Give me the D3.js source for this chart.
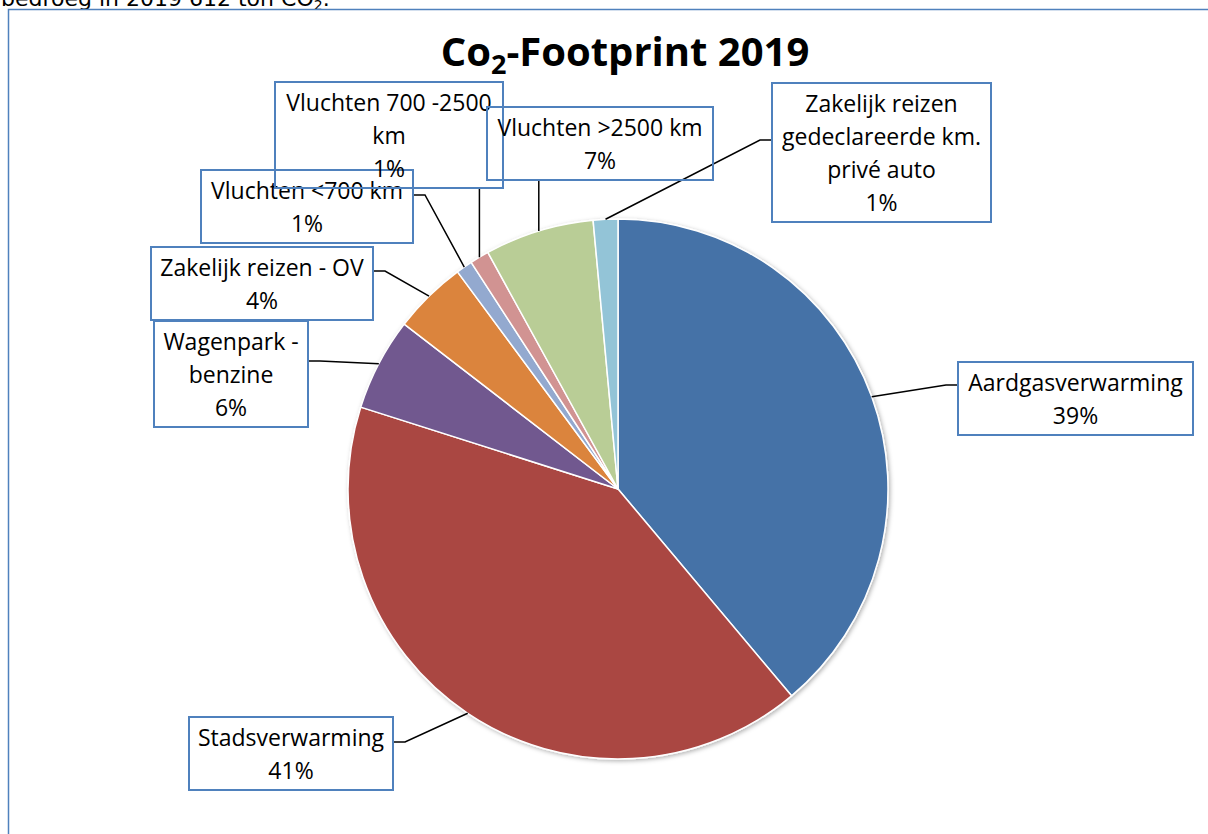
<!DOCTYPE html>
<html>
<head>
<meta charset="utf-8">
<script src="https://cdn.jsdelivr.net/npm/d3@7"></script>
<style>
  html, body { margin: 0; padding: 0; background: #ffffff; overflow: hidden; }
  svg { display: block; }
</style>
</head>
<body>
<svg id="chart" width="1208" height="834"></svg>
<script>
// ---- data (ton CO2, 2019, total 612) ----
const categories = [
  "Aardgasverwarming",
  "Stadsverwarming",
  "Wagenpark - benzine",
  "Zakelijk reizen - OV",
  "Vluchten <700 km",
  "Vluchten 700 -2500 km",
  "Vluchten >2500 km",
  "Zakelijk reizen gedeclareerde km. privé auto"
];
const values = [238, 251, 34, 27, 6, 7, 40, 9];
const labelLines = [
  ["Aardgasverwarming"],
  ["Stadsverwarming"],
  ["Wagenpark -", "benzine"],
  ["Zakelijk reizen - OV"],
  ["Vluchten <700 km"],
  ["Vluchten 700 -2500", "km"],
  ["Vluchten >2500 km"],
  ["Zakelijk reizen", "gedeclareerde km.", "privé auto"]
];
const colors = ["#4572A7", "#AA4643", "#71588F", "#DB843D", "#93A9CF", "#D19392", "#B9CD96", "#93C4D7"];

// ---- layout of label boxes (x, y, width, side of leader, knee y) ----
const boxLayout = [
  {x: 958, y: 362, w: 235, side: "left",   ky: 385},
  {x: 189, y: 717, w: 204, side: "right",  ky: 742},
  {x: 154, y: 321, w: 154, side: "right",  ky: 361},
  {x: 151, y: 247, w: 222, side: "right",  ky: 271},
  {x: 201, y: 170, w: 212, side: "right",  ky: 195},
  {x: 275, y: 82,  w: 228, side: "bottom", ky: 0},
  {x: 487, y: 107, w: 226, side: "bottom", ky: 0},
  {x: 772, y: 83,  w: 219, side: "left",   ky: 140}
];

const svg = d3.select("#chart");
const cx = 618, cy = 489, R = 270;
const lineH = 33;
const fontFam = "'Open Sans', 'Noto Sans', sans-serif";

// shadow filter
const defs = svg.append("defs");
const f = defs.append("filter").attr("id", "sh").attr("x", "-10%").attr("y", "-10%").attr("width", "120%").attr("height", "120%");
f.append("feDropShadow").attr("dx", 1.5).attr("dy", 1.5).attr("stdDeviation", 2)
  .attr("flood-color", "#000").attr("flood-opacity", 0.3);

// cut-off text line at the very top
const topText = svg.append("text")
  .attr("x", 1).attr("y", 6)
  .attr("font-family", "'DejaVu Sans', Verdana, sans-serif")
  .attr("font-size", 22).attr("fill", "#000");
topText.append("tspan").text("bedroeg in 2019 612 ton CO");
topText.append("tspan").attr("font-size", 14).attr("dy", 4).text("2");
topText.append("tspan").attr("dy", -4).text(".");

// frame (table cell border)
svg.append("rect")
  .attr("x", 8.5).attr("y", 9.5).attr("width", 1400).attr("height", 1000)
  .attr("fill", "none").attr("stroke", "#4F81BD").attr("stroke-width", 1.5);

// title
const title = svg.append("text")
  .attr("x", 625).attr("y", 66)
  .attr("text-anchor", "middle")
  .attr("font-family", fontFam)
  .attr("font-weight", "bold")
  .attr("font-size", 40).attr("fill", "#000");
title.append("tspan").text("Co");
title.append("tspan").attr("font-size", 27).attr("dy", 8).text("2");
title.append("tspan").attr("dy", -8).text("-Footprint 2019");

// pie
const total = d3.sum(values);
const pie = d3.pie().sort(null).value(d => d)(values);
const arc = d3.arc().innerRadius(0).outerRadius(R);

const g = svg.append("g").attr("transform", `translate(${cx},${cy})`);
g.append("g").attr("filter", "url(#sh)")
  .selectAll("path").data(pie).join("path")
  .attr("d", arc)
  .attr("fill", (d, i) => colors[i])
  .attr("stroke", "#ffffff")
  .attr("stroke-width", 1.5)
  .attr("stroke-linejoin", "round");

// leader lines
const pct = d3.format(".0%");
pie.forEach((d, i) => {
  const a = (d.startAngle + d.endAngle) / 2;
  const px = cx + R * Math.sin(a), py = cy - R * Math.cos(a);
  const b = boxLayout[i];
  const n = labelLines[i].length + 1;
  const h = n * lineH + 7;
  let pts;
  if (b.side === "left") {
    pts = [[px, py], [b.x - 12, b.ky], [b.x, b.ky]];
  } else if (b.side === "right") {
    pts = [[px, py], [b.x + b.w + 12, b.ky], [b.x + b.w, b.ky]];
  } else {
    pts = [[px, py], [px, b.y + h]];
  }
  svg.append("path")
    .attr("d", d3.line()(pts))
    .attr("fill", "none").attr("stroke", "#000").attr("stroke-width", 1.5);
});

// label boxes
pie.forEach((d, i) => {
  const b = boxLayout[i];
  const lines = labelLines[i].concat([pct(values[i] / total)]);
  const h = lines.length * lineH + 7;
  svg.append("rect")
    .attr("x", b.x).attr("y", b.y).attr("width", b.w).attr("height", h)
    .attr("fill", "none").attr("stroke", "#4F81BD").attr("stroke-width", 2);
  const t = svg.append("text")
    .attr("font-family", fontFam)
    .attr("font-size", 23).attr("fill", "#000")
    .attr("text-anchor", "middle");
  lines.forEach((ln, k) => {
    t.append("tspan")
      .attr("x", b.x + b.w / 2)
      .attr("y", b.y + 20 + k * lineH)
      .attr("dominant-baseline", "central")
      .text(ln);
  });
});
</script>
</body>
</html>
